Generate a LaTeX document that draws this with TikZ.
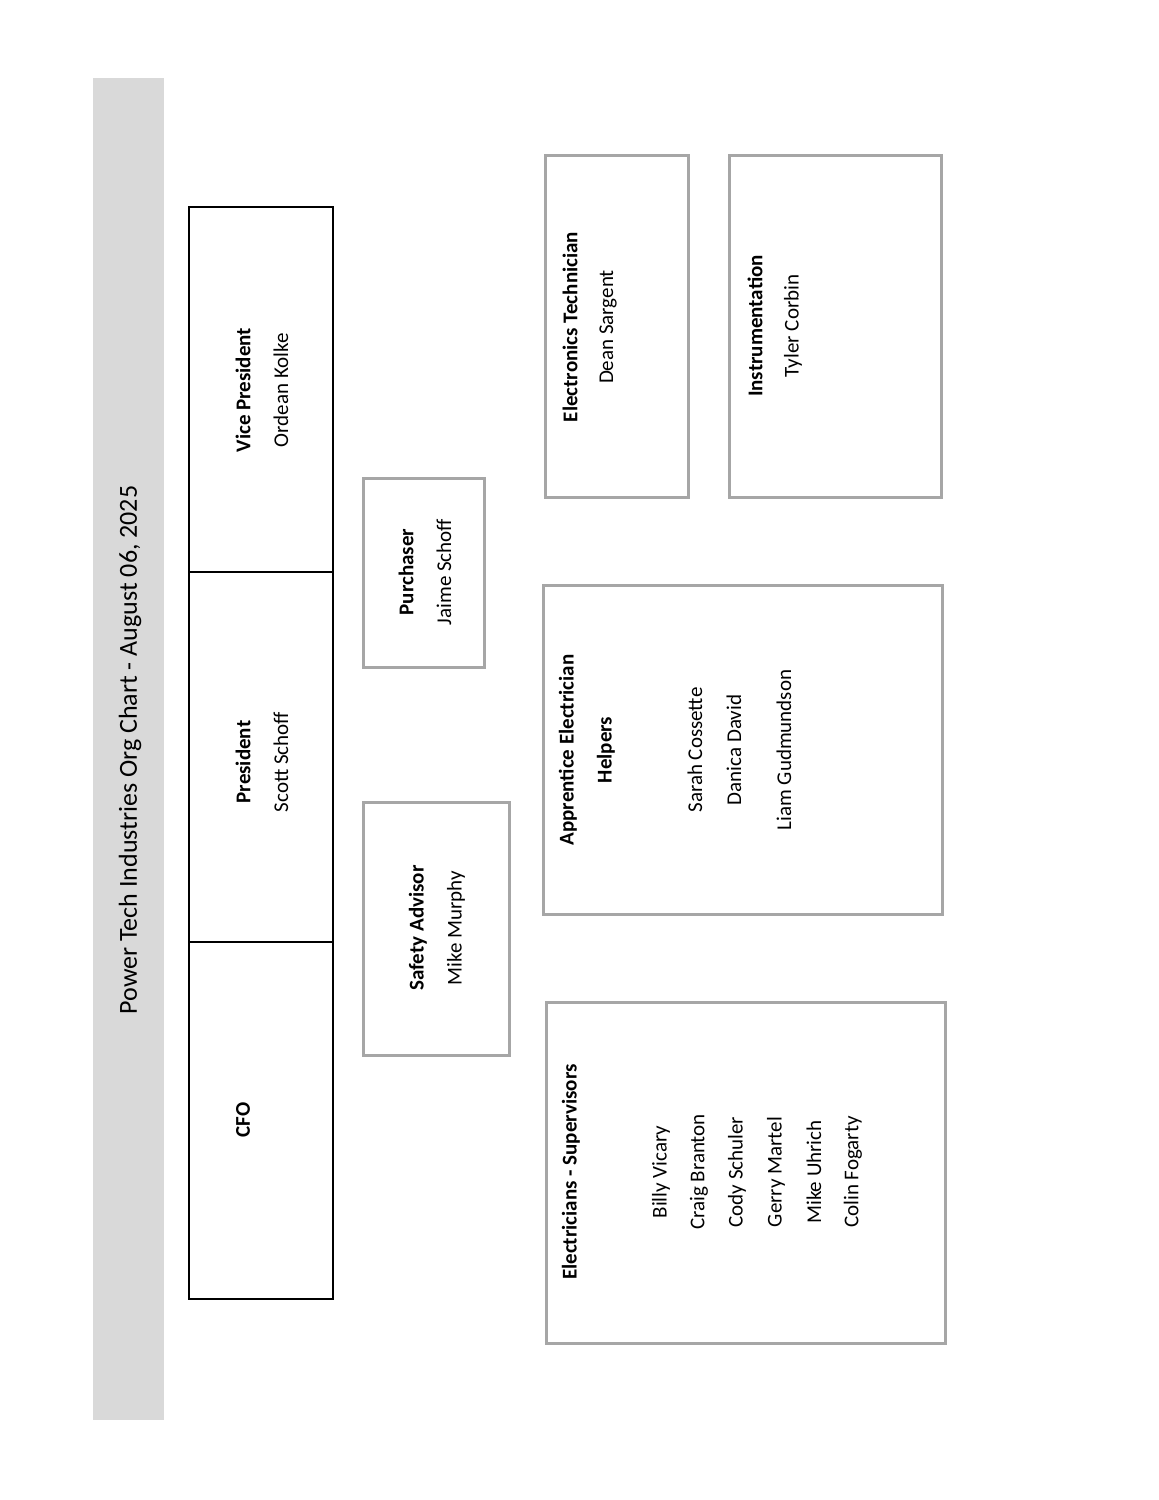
\documentclass[tikz,border=0pt]{standalone}
\usepackage{fontspec}
\setmainfont{Carlito}
\begin{document}
\begin{tikzpicture}[x=1pt,y=-1pt,
  gbox/.style={draw=black!35,line width=3pt},
  kbox/.style={draw=black,line width=1.5pt},
  t/.style={rotate=90,inner sep=0pt,font=\fontsize{21}{25}\selectfont},
  b/.style={t,font=\fontsize{21}{25}\selectfont\bfseries}]
\useasboundingbox (0,0) rectangle (1159,1500);
\fill[black!15] (93,78) rectangle (164,1420);
\node[t,font=\fontsize{26}{30}\selectfont] (title) at (130,750) {Power Tech Industries Org Chart - August 06, 2025};
% top box
\draw[kbox] (189,207) rectangle (333,1299);
\draw[kbox] (189,572) -- (333,572);
\draw[kbox] (189,942) -- (333,942);
\node[b] (vp1) at (243,390) {Vice President};
\node[t] (vp2) at (281,390) {Ordean Kolke};
\node[b] (p1) at (243,762) {President};
\node[t] (p2) at (281,762) {Scott Schoff};
\node[b] (cfo) at (243,1120) {CFO};
% purchaser
\draw[gbox] (363,478) rectangle (484,667);
\node[b] (pu1) at (406,572) {Purchaser};
\node[t] (pu2) at (444,572) {Jaime Schoff};
% safety
\draw[gbox] (363,802) rectangle (509,1055);
\node[b] (sa1) at (418,928) {Safety Advisor};
\node[t] (sa2) at (456,928) {Mike Murphy};
% electronics
\draw[gbox] (545,155) rectangle (688,497);
\node[b] (et1) at (570,327) {Electronics Technician};
\node[t] (et2) at (608,327) {Dean Sargent};
% instrumentation
\draw[gbox] (729,155) rectangle (941,497);
\node[b] (in1) at (755,326) {Instrumentation};
\node[t] (in2) at (793,326) {Tyler Corbin};
% apprentice
\draw[gbox] (543,585) rectangle (942,914);
\node[b] (ap1) at (568,750) {Apprentice Electrician};
\node[b] (ap2) at (606,750) {Helpers};
\node[t] (ap3) at (695,750) {Sarah Cossette};
\node[t] (ap4) at (734,750) {Danica David};
\node[t] (ap5) at (784,750) {Liam Gudmundson};
% electricians
\draw[gbox] (546,1002) rectangle (945,1343);
\node[b] (el1) at (571,1172) {Electricians - Supervisors};
\node[t] (el2) at (661,1172) {Billy Vicary};
\node[t] (el3) at (699,1172) {Craig Branton};
\node[t] (el4) at (737,1172) {Cody Schuler};
\node[t] (el5) at (776,1172) {Gerry Martel};
\node[t] (el6) at (814,1172) {Mike Uhrich};
\node[t] (el7) at (853,1172) {Colin Fogarty};
\end{tikzpicture}
\end{document}
